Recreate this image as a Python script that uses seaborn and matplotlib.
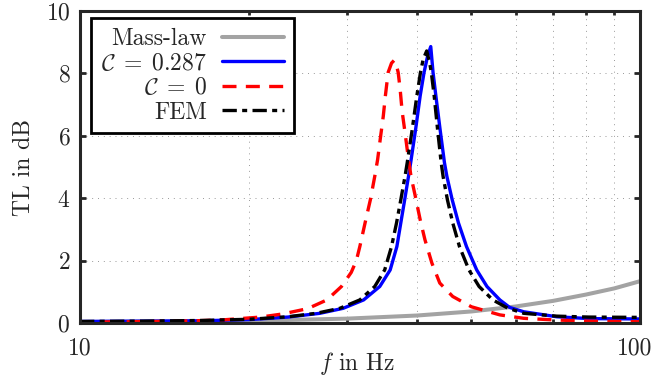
import numpy as np
import pandas as pd
import matplotlib
matplotlib.use("Agg")
import matplotlib.pyplot as plt
import matplotlib.transforms as mtransforms
from matplotlib.ticker import FixedLocator, FixedFormatter, NullFormatter, LogLocator
import seaborn as sns

# values (f in Hz, TL in dB)
f_mass = [10, 20, 30, 40, 50, 60, 70, 80, 90, 100]
tl_mass = [0.03, 0.07, 0.14, 0.24, 0.37, 0.53, 0.71, 0.91, 1.11, 1.34]

f_c287 = [10, 13, 16.4, 20.1, 23.5, 26.8, 29.5, 32.1, 34.3, 35.8, 36.8, 37.4, 38.0, 38.6, 38.95,
          39.75, 40.5, 41.15, 41.75, 42.3, 42.7, 43.2, 43.95, 44.75, 45.2, 46.2, 47.4, 49.0, 51.1, 53.3,
          56.2, 58.5, 62.0, 71.0, 81.3, 100]
tl_c287 = [0.05, 0.06, 0.07, 0.11, 0.19, 0.31, 0.47, 0.74, 1.17, 1.70, 2.45, 3.21, 3.95, 4.70, 5.14,
           6.21, 7.28, 8.03, 8.55, 8.86, 8.03, 7.28, 6.21, 5.14, 4.70, 3.95, 3.21, 2.45, 1.70, 1.17,
           0.74, 0.50, 0.36, 0.20, 0.14, 0.13]

f_c0 = [10, 12, 14, 16, 18, 21, 23, 25.5, 27.6, 29.3, 30.5, 31.15, 31.6, 32.3, 33.0, 33.6, 34.0,
        34.4, 34.8, 35.1, 35.5, 36.0, 36.4, 36.8, 37.0, 37.3, 37.6, 38.05, 38.5, 39.0, 39.7, 40.5,
        41.3, 42.5, 43.9, 46.3, 50.0, 56.2, 62, 70, 81, 100]
tl_c0 = [0.03, 0.04, 0.05, 0.07, 0.10, 0.19, 0.29, 0.46, 0.74, 1.17, 1.62, 2.00, 2.45, 3.22, 3.95,
         4.70, 5.24, 5.95, 6.63, 7.28, 8.03, 8.33, 8.42, 8.20, 8.03, 7.49, 6.79, 6.11, 5.40, 4.70,
         4.06, 3.31, 2.67, 1.92, 1.28, 0.85, 0.52, 0.26, 0.15, 0.10, 0.06, 0.04]

f_fem = [10, 13, 16.4, 20.1, 23.5, 26.4, 29.1, 31.6, 33.6, 35.0, 36.0, 36.75, 37.4, 38.05, 38.4,
         39.2, 39.95, 40.55, 41.0, 41.6, 42.1, 42.4, 42.9, 43.5, 44.15, 44.5, 45.3, 46.3, 47.6, 49.5,
         51.6, 54.6, 58, 62, 71, 81, 100]
tl_fem = [0.05, 0.06, 0.08, 0.12, 0.20, 0.31, 0.47, 0.74, 1.17, 1.70, 2.45, 3.21, 3.95, 4.70, 5.14,
          6.21, 7.28, 8.03, 8.45, 8.72, 8.35, 8.03, 7.28, 6.21, 5.14, 4.70, 3.95, 3.21, 2.45, 1.70,
          1.17, 0.74, 0.48, 0.31, 0.22, 0.19, 0.18]

sns.set_style("ticks")
plt.rcParams['font.family'] = ['cmr10', 'DejaVu Serif']
plt.rcParams['mathtext.fontset'] = 'cm'
plt.rcParams['axes.formatter.use_mathtext'] = True
plt.rcParams['font.size'] = 17

fig = plt.figure(figsize=(6.55, 3.79), dpi=100)
ax = fig.add_axes([80/655, 1 - 323/379, 560/655, 312/379])

sns.lineplot(x=f_mass, y=tl_mass, ax=ax, color='#a3a3a3', lw=2.9, label='Mass-law', errorbar=None)
sns.lineplot(x=f_c287, y=tl_c287, ax=ax, color='#0000ff', lw=2.4,
             label=r'$\mathcal{C}\;=\;0.287$', errorbar=None)
sns.lineplot(x=f_c0, y=tl_c0, ax=ax, color='#ff0000', lw=2.4, ls=(0, (4.2, 2.8)),
             label=r'$\mathcal{C}\;=\;0$', errorbar=None)
sns.lineplot(x=f_fem, y=tl_fem, ax=ax, color='black', lw=2.4, ls=(0, (4.3, 1.6, 1.5, 1.6)),
             label='FEM', errorbar=None)

ax.set_xscale('log')
ax.set_xlim(10, 100)
ax.set_ylim(0, 10)
ax.xaxis.set_major_locator(FixedLocator([10, 100]))
ax.xaxis.set_major_formatter(FixedFormatter(['10', '100']))
ax.xaxis.set_minor_locator(LogLocator(base=10, subs=np.arange(2, 10)))
ax.xaxis.set_minor_formatter(NullFormatter())
ax.set_yticks([0, 2, 4, 6, 8, 10])

# sparse dotted grid
ax.grid(which='both', axis='x', color='#999999', lw=0.7, ls=(0, (1, 5)))
ax.grid(which='major', axis='y', color='#999999', lw=0.7, ls=(0, (1, 5)))
ax.tick_params(which='both', direction='in', top=True, right=True, width=2.0)
ax.tick_params(which='major', length=4.5)
ax.tick_params(which='minor', length=3)
ax.tick_params(axis='x', which='major', pad=10)
ax.tick_params(axis='y', which='major', pad=7)
for s in ax.spines.values():
    s.set_linewidth(2.2)

ax.set_xlabel(r'$f$ in Hz')
ax.set_ylabel('TL in dB')
ax.xaxis.set_label_coords(0.495, -0.085)
ax.yaxis.set_label_coords(-0.08, 0.5)

# nudge "100" a little so it stays inside the canvas
for lab in ax.get_xticklabels():
    if lab.get_text() == '100':
        lab.set_transform(lab.get_transform() + mtransforms.ScaledTranslation(-5/100, 0, fig.dpi_scale_trans))

leg = ax.legend(loc='upper left', bbox_to_anchor=(11/560, 1 - 7/312), borderaxespad=0,
                markerfirst=False, fancybox=False, framealpha=1, edgecolor='black',
                handlelength=2.6, labelspacing=0.1, borderpad=0.42, handletextpad=0.65)
leg.get_frame().set_linewidth(2.0)

fig.savefig('out.png', dpi=100)
